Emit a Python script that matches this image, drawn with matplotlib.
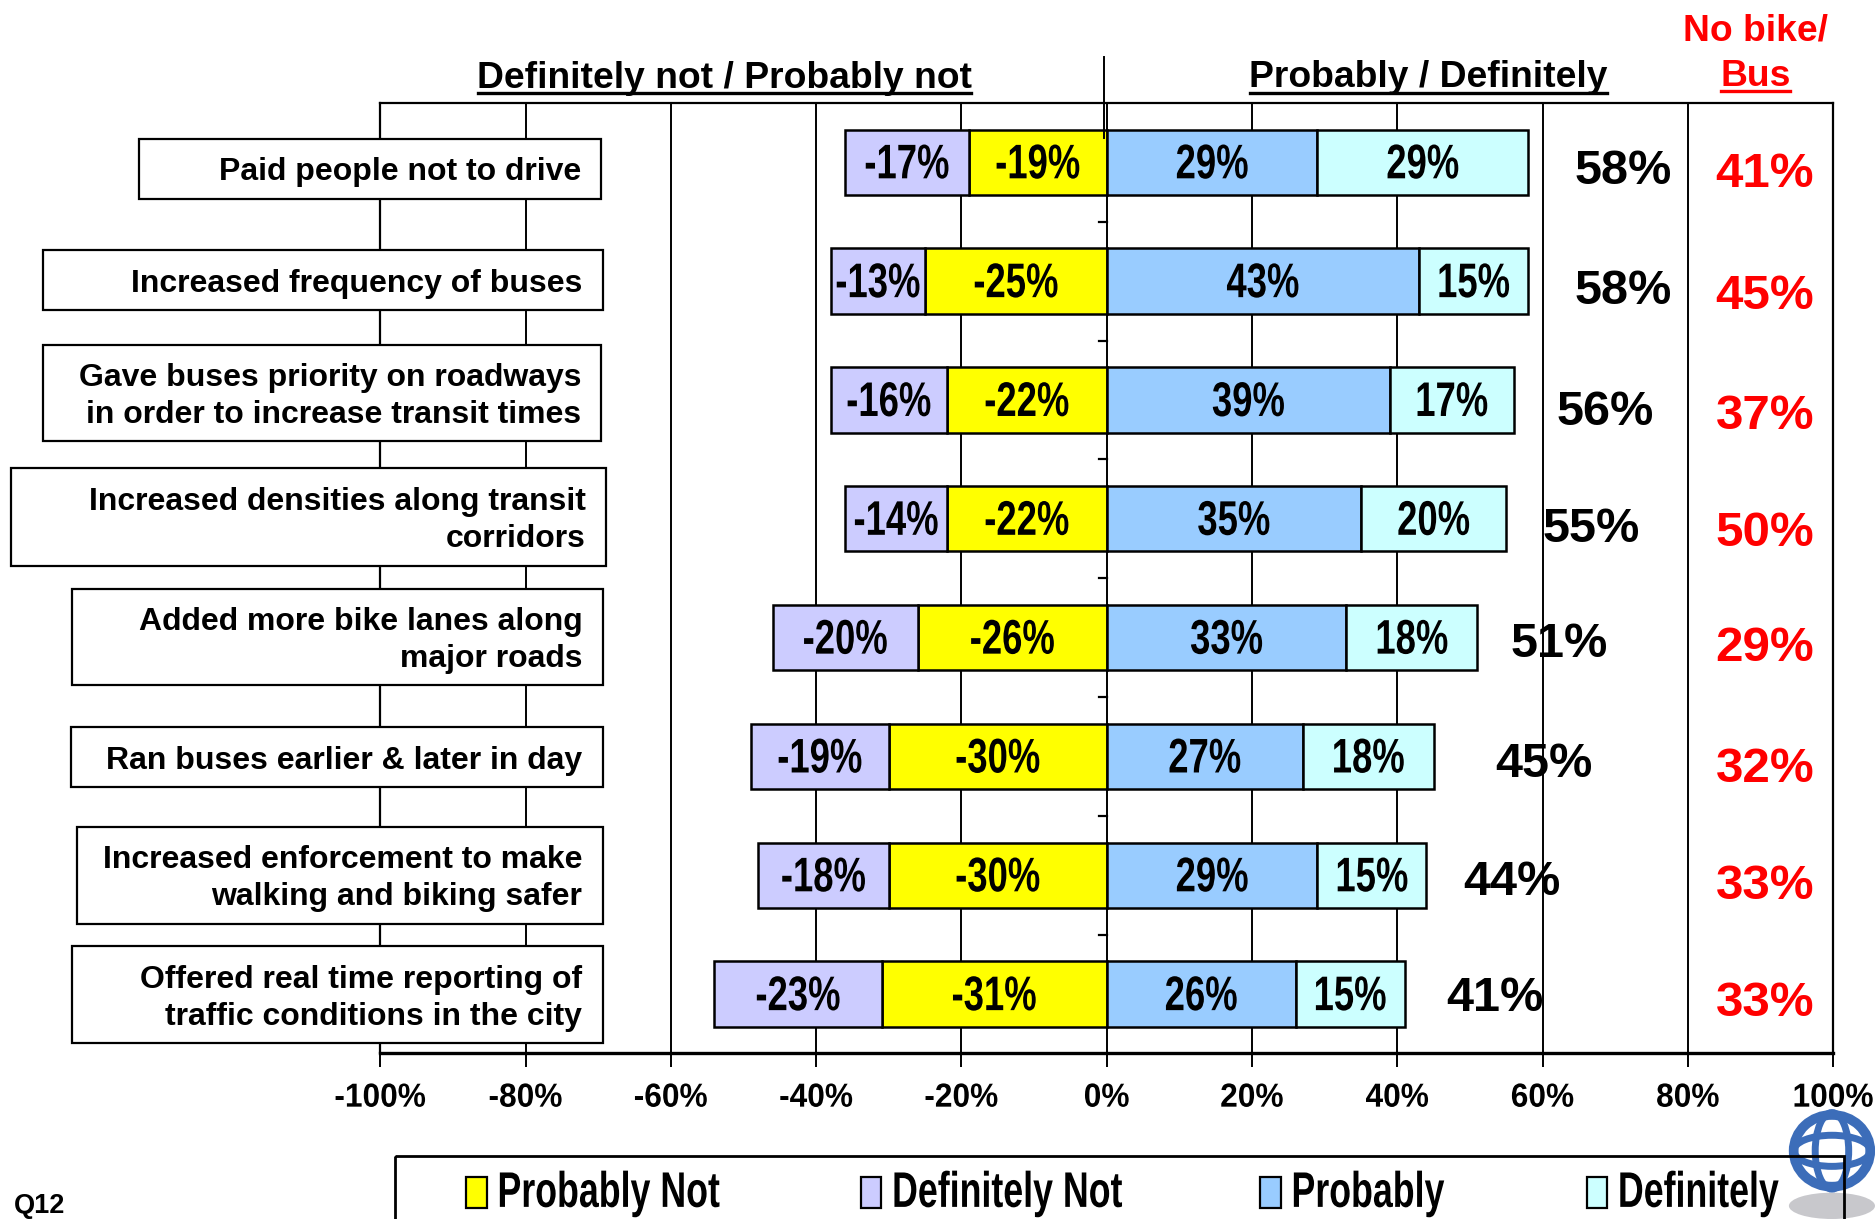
import matplotlib
matplotlib.use('Agg')
import matplotlib.pyplot as plt
from matplotlib.patches import Rectangle, Ellipse
from matplotlib.patheffects import AbstractPathEffect
from matplotlib.transforms import Affine2D
import numpy as np

plt.rcParams['font.family'] = ['Liberation Sans', 'DejaVu Sans']

categories = ['Paid people not to drive', 'Increased frequency of buses',
              'Gave buses priority on roadways\nin order to increase transit times',
              'Increased densities along transit\ncorridors',
              'Added more bike lanes along\nmajor roads',
              'Ran buses earlier & later in day',
              'Increased enforcement to make\nwalking and biking safer',
              'Offered real time reporting of\ntraffic conditions in the city']
definitely_not = [-17, -13, -16, -14, -20, -19, -18, -23]
probably_not = [-19, -25, -22, -22, -26, -30, -30, -31]
probably = [29, 43, 39, 35, 33, 27, 29, 26]
definitely = [29, 15, 17, 20, 18, 18, 15, 15]
totals = [58, 58, 56, 55, 51, 45, 44, 41]
no_bike_bus = [41, 45, 37, 50, 29, 32, 33, 33]
xticks = [-100, -80, -60, -40, -20, 0, 20, 40, 60, 80, 100]

# label box positions and text anchors, in units of the 1568 wide view
boxes = [(116, 116, 503, 166), (36, 209, 504, 259), (36, 288, 503, 369), (9, 391, 507, 473),
         (60, 492, 504, 573), (59, 608, 504, 658), (64, 691, 504, 772), (60, 791, 504, 872)]
total_pos = [(1357, 141), (1357, 242), (1342, 343), (1331, 441),
             (1304, 537), (1291, 637), (1264, 736), (1250, 833)]
red_y = [143, 245, 345, 443, 539, 640, 738, 836]


# no narrow bold font installed, so squeeze the glyphs around the text anchor
class Squeeze(AbstractPathEffect):
    def __init__(self, text, sx):
        super().__init__()
        self.text = text
        self.sx = sx

    def draw_path(self, renderer, gc, tpath, affine, rgbFace=None):
        cx = self.text.get_transform().transform(self.text.get_position())[0]
        a = affine + Affine2D().translate(-cx, 0).scale(self.sx, 1).translate(cx, 0)
        renderer.draw_path(gc, tpath, a, rgbFace)


def squeeze(t, sx):
    t.set_path_effects([Squeeze(t, sx)])
    return t


W, H = 1875, 1219
fig = plt.figure(figsize=(W / 100, H / 100), dpi=100)
s = W / 1568
ax = fig.add_axes([318 * s / W, 1 - 881 * s / H, (1533 - 318) * s / W, (881 - 86) * s / H])

y = np.arange(len(categories))
h = 0.55
bar_style = dict(height=h, edgecolor='black', linewidth=1.8, zorder=3)
ax.barh(y, probably_not, color='#FFFF00', **bar_style)
ax.barh(y, definitely_not, left=probably_not, color='#CCCCFF', **bar_style)
ax.barh(y, probably, color='#99CCFF', **bar_style)
ax.barh(y, definitely, left=probably, color='#CCFFFF', **bar_style)

for i in y:
    for left, val in [(0, probably_not[i]), (probably_not[i], definitely_not[i]),
                      (0, probably[i]), (probably[i], definitely[i])]:
        t = ax.text(left + val / 2, i + 0.03, f'{val}%', ha='center', va='center', fontsize=35,
                    fontweight='bold', zorder=4)
        squeeze(t, 0.75)

ax.set_xlim(-100, 100)
ax.set_ylim(len(categories) - 0.5, -0.5)
ax.set_xticks(xticks)
ax.set_xticklabels([f'{t}%' for t in xticks], fontsize=24, fontweight='bold')
for t in ax.get_xticklabels():
    squeeze(t, 0.95)
ax.tick_params(axis='x', length=10, width=1.4, pad=11)
ax.set_yticks([])
ax.grid(axis='x', color='black', linewidth=1.4, zorder=1)
ax.set_axisbelow(True)
for side in ['top', 'left', 'right']:
    ax.spines[side].set_linewidth(1.6)
ax.spines['bottom'].set_linewidth(2.4)

# short ticks on the zero line
for b in y[:-1] + 0.5:
    ax.plot([-1, 0], [b, b], color='black', lw=1.6, zorder=2, clip_on=False)

# overlay for boxes, headers and legend
ov = fig.add_axes([0, 0, 1, 1], zorder=5)
ov.set_xlim(0, 1568)
ov.set_ylim(1019, 0)
ov.axis('off')

for (x0, y0, x1, y1), lab in zip(boxes, categories):
    ov.add_patch(Rectangle((x0, y0), x1 - x0, y1 - y0, fc='white', ec='black', lw=1.6))
    ov.text(x1 - 17, (y0 + y1) / 2 + 3, lab, ha='right', va='center', fontsize=23,
            fontweight='bold', linespacing=1.31)

for (tx, ty), t in zip(total_pos, totals):
    ov.text(tx, ty + 2, f'{t}%', ha='center', va='center', fontsize=35, fontweight='bold')
for ry, r in zip(red_y, no_bike_bus):
    ov.text(1476, ry + 3, f'{r}%', ha='center', va='center', fontsize=35.5, fontweight='bold', color='#FF0000')

ov.plot([923, 923], [48, 115], color='black', lw=1.4)

ov.text(606, 66, 'Definitely not / Probably not', ha='center', va='center', fontsize=26.8, fontweight='bold')
ov.plot([400, 812], [78, 78], color='black', lw=2.4)
ov.text(1194, 65, 'Probably / Definitely', ha='center', va='center', fontsize=26.8, fontweight='bold')
ov.plot([1045, 1344], [78, 78], color='black', lw=2.4)
ov.text(1468, 26, 'No bike/', ha='center', va='center', fontsize=26.8, fontweight='bold', color='#FF0000')
ov.text(1468, 64, 'Bus', ha='center', va='center', fontsize=26.8, fontweight='bold', color='#FF0000')
ov.plot([1439, 1497], [76, 76], color='#FF0000', lw=2.4)

ov.text(12, 1008, 'Q12', ha='left', va='center', fontsize=19.5, fontweight='bold')

# logo goes under the legend frame
ov.add_patch(Ellipse((1532, 1008), 72, 22, fc='#C8C8CC', ec='none'))
for ew, eh, lw in [(64, 60, 7), (28, 64, 5), (64, 26, 5)]:
    ov.add_patch(Ellipse((1532, 962), ew, eh, fc='none', ec='#3C6DB9', lw=lw))

# legend
ov.add_patch(Rectangle((330, 966), 1212, 80, fc='none', ec='black', lw=2))
legend_names = ['Probably Not', 'Definitely Not', 'Probably', 'Definitely']
legend_colors = ['#FFFF00', '#CCCCFF', '#99CCFF', '#CCFFFF']
legend_x = [390, 720, 1054, 1327]
for lx, nm, c in zip(legend_x, legend_names, legend_colors):
    ov.add_patch(Rectangle((lx, 984), 17, 26, fc=c, ec='black', lw=1.6))
    t = ov.text(lx + 26, 998, nm, ha='left', va='center', fontsize=36, fontweight='bold')
    squeeze(t, 0.715)

fig.savefig('out.png', dpi=100)
